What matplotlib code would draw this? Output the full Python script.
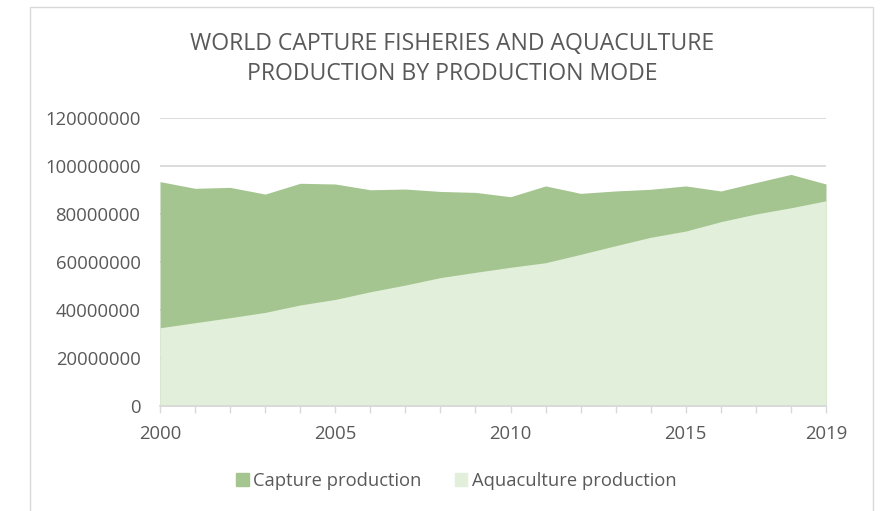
import matplotlib
matplotlib.use("Agg")
import matplotlib.pyplot as plt
from matplotlib.patches import Rectangle, Patch

years = list(range(2000, 2020))
capture = [93.5, 90.7, 91.1, 88.3, 92.8, 92.5, 90.1, 90.4, 89.4, 89.0,
           87.2, 91.7, 88.6, 89.6, 90.3, 91.7, 89.6, 93.1, 96.5, 92.5]
aquaculture = [32.6, 34.7, 36.8, 39.0, 42.1, 44.4, 47.6, 50.4, 53.5, 55.7,
               57.8, 59.7, 63.2, 66.8, 70.3, 72.9, 76.8, 80.0, 82.6, 85.5]
capture = [v * 1e6 for v in capture]
aquaculture = [v * 1e6 for v in aquaculture]
label_years = [2000, 2005, 2010, 2015, 2019]

txt = '#595959'
grid = '#D9D9D9'
cap_color = '#A5C590'
aqua_color = '#E2EFDA'

plt.rcParams['font.family'] = ['Open Sans', 'DejaVu Sans']

fig = plt.figure(figsize=(8.86, 5.11), dpi=100)
ax = fig.add_axes([160/886, 1 - 406/511, 666/886, 288/511])

# chart frame
fig.patches.append(Rectangle((30/886, -0.05), 843/886, 1.05 - 7/511,
                             transform=fig.transFigure, fill=False,
                             edgecolor=grid, lw=1))

ax.fill_between(years, 0, capture, color=cap_color, lw=0, zorder=2)
ax.fill_between(years, 0, aquaculture, color=aqua_color, lw=0, zorder=3)

ax.set_xlim(2000, 2019)
ax.set_ylim(0, 120e6)
ax.set_yticks(range(0, 120000001, 20000000))
ax.set_yticklabels([str(v) for v in range(0, 120000001, 20000000)])
ax.set_xticks(years)
ax.set_xticklabels([str(y) if y in label_years else '' for y in years])

ax.grid(axis='y', color=grid, lw=1.3, zorder=1)
ax.set_axisbelow(True)
for s in ['top', 'right', 'left']:
    ax.spines[s].set_visible(False)
ax.spines['bottom'].set_color(grid)
ax.spines['bottom'].set_linewidth(1.3)
ax.spines['bottom'].set_zorder(4)
ax.tick_params(axis='y', length=0, pad=14, labelsize=13.3, labelcolor=txt)
ax.tick_params(axis='x', length=5, width=1, color=grid, pad=9,
               labelsize=13.3, labelcolor=txt)

fig.text(0.51, 1 - 44/511, 'WORLD CAPTURE FISHERIES AND AQUACULTURE',
         ha='center', va='center', fontsize=16.6, color=txt)
fig.text(0.51, 1 - 74/511, 'PRODUCTION BY PRODUCTION MODE',
         ha='center', va='center', fontsize=16.6, color=txt)

handles = [Patch(color=cap_color, label='Capture production'),
           Patch(color=aqua_color, label='Aquaculture production')]
leg = fig.legend(handles=handles, loc='center', ncol=2,
                 bbox_to_anchor=(0.515, 1 - 481/511), frameon=False,
                 fontsize=13.2, handlelength=0.7, handleheight=0.7,
                 handletextpad=0.25, columnspacing=1.8)
for t in leg.get_texts():
    t.set_color(txt)

fig.savefig('out.png', dpi=100)
